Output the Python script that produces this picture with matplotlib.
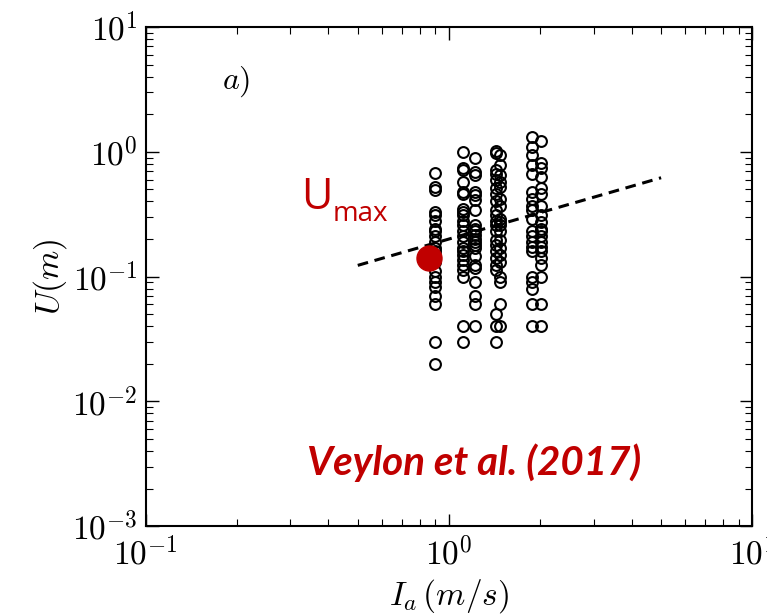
import matplotlib
matplotlib.use("Agg")
import matplotlib.pyplot as plt
from matplotlib.ticker import FuncFormatter
import numpy as np

plt.rcParams['mathtext.fontset'] = 'cm'
plt.rcParams['font.family'] = 'DejaVu Serif'

# Impact velocity groups (m/s) and measured runout U (m) for each group
ia_groups = [0.90, 1.11, 1.22, 1.43, 1.47, 1.88, 2.01]
u_090 = [0.68, 0.52, 0.49, 0.33, 0.31, 0.28, 0.24, 0.23, 0.21, 0.19, 0.17, 0.16,
         0.15, 0.14, 0.13, 0.11, 0.10, 0.09, 0.083, 0.07, 0.06, 0.03, 0.02]
u_111 = [1.0, 0.74, 0.71, 0.575, 0.48, 0.46, 0.35, 0.33, 0.31, 0.28, 0.26, 0.23,
         0.21, 0.19, 0.17, 0.16, 0.15, 0.136, 0.124, 0.113, 0.10, 0.04, 0.03]
u_122 = [0.885, 0.69, 0.65, 0.48, 0.45, 0.41, 0.34, 0.26, 0.24, 0.23, 0.215, 0.20,
         0.19, 0.18, 0.17, 0.145, 0.124, 0.117, 0.09, 0.07, 0.06, 0.04]
u_143 = [1.01, 0.97, 0.71, 0.67, 0.59, 0.51, 0.46, 0.40, 0.34, 0.31, 0.28, 0.26,
         0.23, 0.196, 0.18, 0.16, 0.14, 0.124, 0.113, 0.05, 0.04, 0.03]
u_147 = [0.94, 0.78, 0.65, 0.575, 0.525, 0.42, 0.37, 0.29, 0.275, 0.26, 0.23, 0.196,
         0.17, 0.15, 0.13, 0.10, 0.09, 0.06, 0.04]
u_188 = [1.32, 1.10, 0.94, 0.78, 0.67, 0.48, 0.42, 0.37, 0.34, 0.29, 0.23, 0.21,
         0.19, 0.174, 0.16, 0.10, 0.09, 0.08, 0.06, 0.04]
u_201 = [1.22, 0.81, 0.74, 0.63, 0.51, 0.46, 0.37, 0.31, 0.275, 0.24, 0.23, 0.21,
         0.19, 0.174, 0.16, 0.14, 0.124, 0.10, 0.06, 0.04]
u_groups = [u_090, u_111, u_122, u_143, u_147, u_188, u_201]

# Power-law fit endpoints
fit_ia = [0.5, 5.0]
fit_u = [0.123, 0.62]

# Highlighted U_max point
umax_ia = 0.86
umax_u = 0.142

red = '#C00000'

fig = plt.figure(figsize=(7.67, 6.16), dpi=100)
ax = fig.add_axes([0.19, 0.146, 0.791, 0.81])

for ia, us in zip(ia_groups, u_groups):
    ax.plot(np.full(len(us), ia), us, linestyle='none', marker='o', markersize=7.8,
            markerfacecolor='none', markeredgecolor='black', markeredgewidth=1.5)

ax.plot(fit_ia, fit_u, color='black', linestyle=(0, (3.5, 2.2)), linewidth=2.2)
ax.plot([umax_ia], [umax_u], marker='o', markersize=18, color=red, linestyle='none')

ax.set_xscale('log')
ax.set_yscale('log')
ax.set_xlim(0.1, 10)
ax.set_ylim(1e-3, 10)

decade_fmt = FuncFormatter(lambda v, pos: r'$10^{%d}$' % round(np.log10(v)))
ax.xaxis.set_major_formatter(decade_fmt)
ax.yaxis.set_major_formatter(decade_fmt)

ax.tick_params(which='both', direction='in', top=True, right=True, labelsize=24)
ax.tick_params(which='major', length=9, width=1.0)
ax.tick_params(which='minor', length=5, width=0.8)
ax.tick_params(axis='x', pad=8)
ax.tick_params(axis='y', pad=6)
for s in ax.spines.values():
    s.set_linewidth(1.5)

ax.set_xlabel(r'$I_a\,(m/s)$', fontsize=24, labelpad=4)
ax.set_ylabel(r'$U(m)$', fontsize=24, labelpad=2)

ax.text(0.125, 0.89, r'$a)$', transform=ax.transAxes, fontsize=23, va='center')

ax.text(0.256, 0.636, 'U', transform=ax.transAxes, fontsize=31, color=red,
        family='Open Sans', va='baseline')
ax.text(0.308, 0.612, 'max', transform=ax.transAxes, fontsize=20, color=red,
        family='Open Sans', va='baseline')

ax.text(0.541, 0.128, 'Veylon et al. (2017)', transform=ax.transAxes, fontsize=29,
        color=red, family='Lato', fontweight='bold', fontstyle='italic',
        ha='center', va='center')

fig.savefig('out.png', dpi=100)
